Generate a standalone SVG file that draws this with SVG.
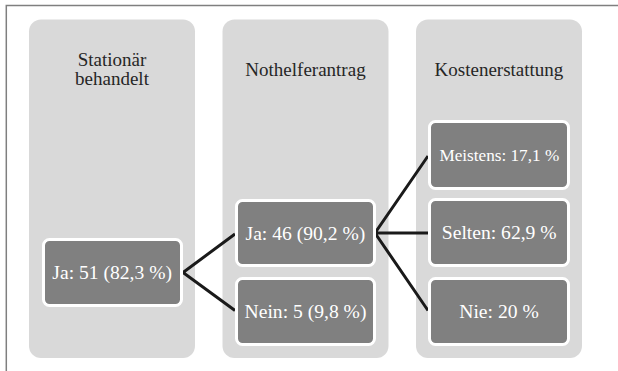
<svg xmlns="http://www.w3.org/2000/svg" width="618" height="371" viewBox="0 0 618 371">
<style>
.frame{fill:none;stroke:#7f7f7f;stroke-width:1.5}
.col{fill:#d9d9d9}
.hdr{font-size:19px;fill:#262626;text-anchor:middle}
.box{fill:#808080;stroke:#ffffff;stroke-width:3}
.lbl{font-size:19.6px;fill:#ffffff;text-anchor:middle}
.small{font-size:17.2px}
.con{fill:none;stroke:#1a1a1a;stroke-width:3;stroke-linejoin:miter}
</style>
<rect width="618" height="371" fill="#ffffff"/>
<path class="frame" d="M6.3,371 V5.5 H618"/>
<g font-family="'Liberation Serif', 'Times New Roman', Times, serif">
<g id="col-stationaer">
<rect class="col" x="29" y="19.5" width="166" height="338.5" rx="12"/>
<text class="hdr" x="112" y="66">Stationär</text>
<text class="hdr" x="112" y="85">behandelt</text>
</g>
<g id="col-nothelfer">
<rect class="col" x="222.5" y="19.5" width="166" height="338.5" rx="12"/>
<text class="hdr" x="305.5" y="76">Nothelferantrag</text>
</g>
<g id="col-kosten">
<rect class="col" x="416" y="19.5" width="166" height="338.5" rx="12"/>
<text class="hdr" x="499" y="76">Kostenerstattung</text>
</g>
<g id="connectors">
<path class="con" d="M235,234 L183,272.5 L235,310.5"/>
<path class="con" d="M428,156 L375,233 L428,310.5 M375,233 H428"/>
</g>
<g id="node-ja51">
<rect class="box" x="43.5" y="239.5" width="138" height="66" rx="6"/>
<text class="lbl" x="112.2" y="279">Ja: 51 (82,3 %)</text>
</g>
<g id="node-ja46">
<rect class="box" x="236.5" y="200.5" width="138" height="65" rx="6"/>
<text class="lbl" x="305.4" y="239.5">Ja: 46 (90,2 %)</text>
</g>
<g id="node-nein5">
<rect class="box" x="236.5" y="278.5" width="138" height="66" rx="6"/>
<text class="lbl" x="305.5" y="318">Nein: 5 (9,8 %)</text>
</g>
<g id="node-meistens">
<rect class="box" x="429.5" y="121.5" width="139" height="67" rx="6"/>
<text class="lbl small" x="499.3" y="161">Meistens: 17,1 %</text>
</g>
<g id="node-selten">
<rect class="box" x="429.5" y="199.5" width="139" height="66" rx="6"/>
<text class="lbl" x="499.2" y="239">Selten: 62,9 %</text>
</g>
<g id="node-nie">
<rect class="box" x="429.5" y="278.5" width="139" height="66" rx="6"/>
<text class="lbl" x="499" y="318">Nie: 20 %</text>
</g>
</g>
</svg>
